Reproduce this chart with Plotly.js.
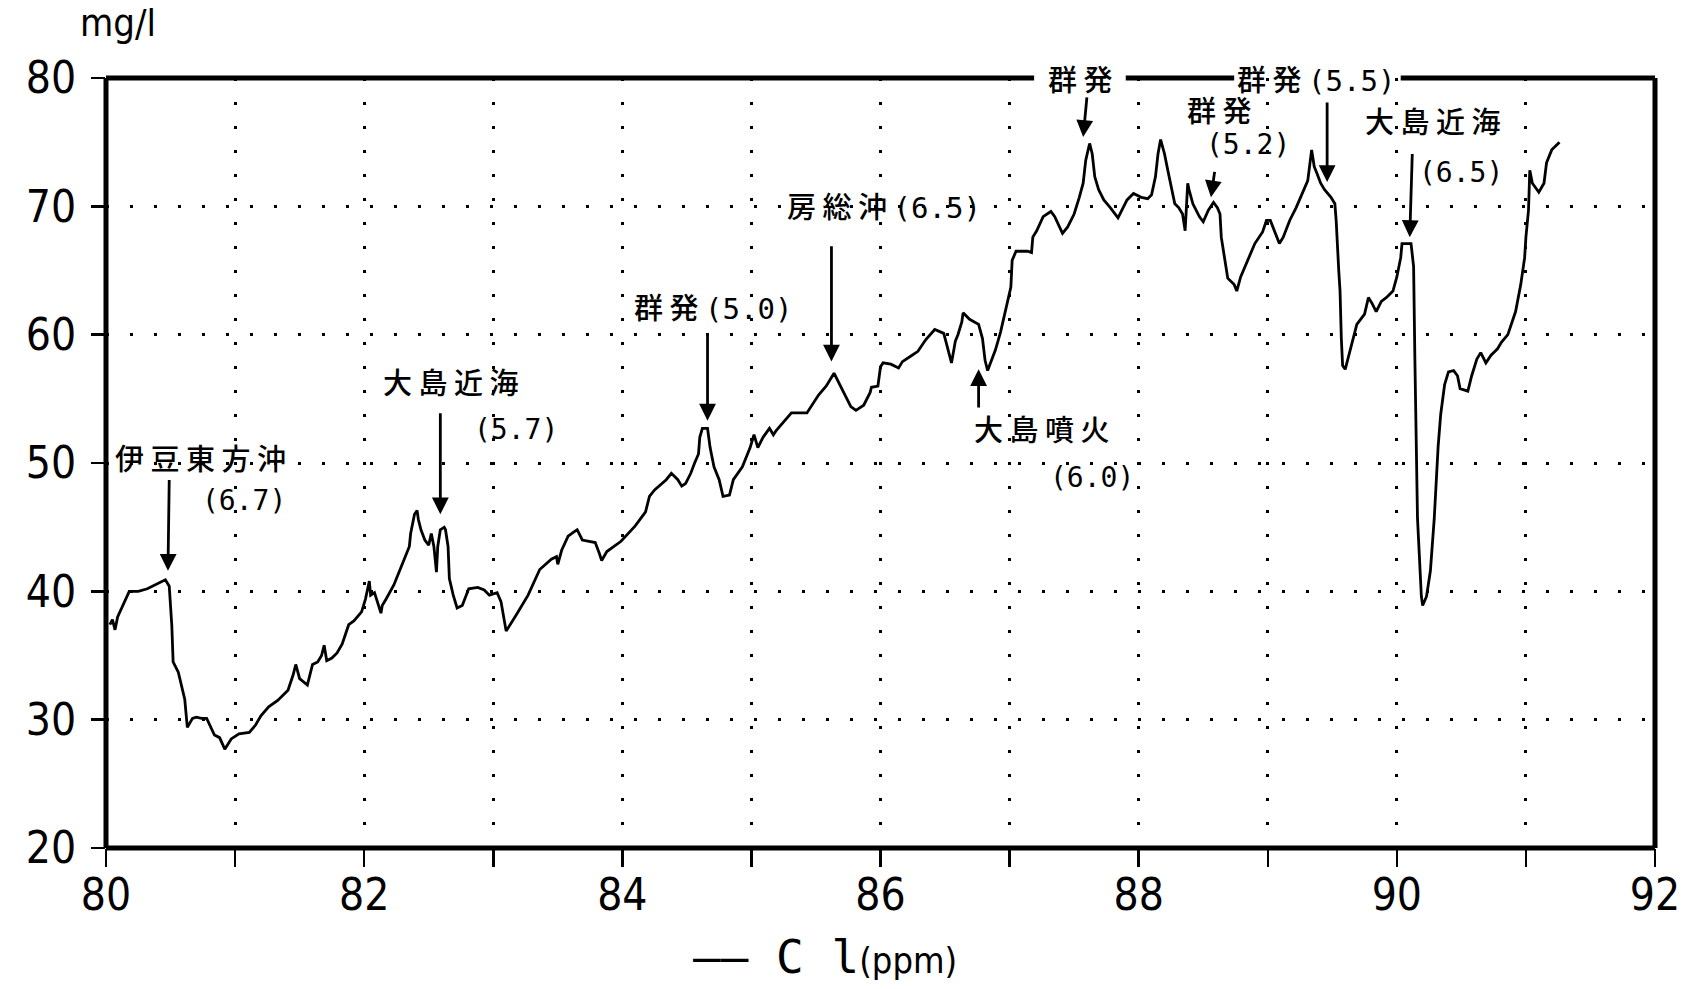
<!DOCTYPE html>
<html>
<head>
<meta charset="utf-8">
<script src="https://cdn.plot.ly/plotly-3.0.1.min.js"></script>
<style>
html,body{margin:0;padding:0;background:#fff;}
#chart{width:1693px;height:989px;}
</style>
</head>
<body>
<div id="chart"></div>
<script>
// Year (Showa/19xx short form) and chloride concentration (mg/l)
const years = [
80.03,80.05,80.07,80.09,80.18,80.25,80.32,80.40,80.46,80.49,80.51,80.52,80.56,80.61,80.63,80.67,80.70,80.74,80.78,80.84,
80.88,80.92,80.97,81.03,81.11,81.16,81.20,81.26,81.33,81.41,81.45,81.47,81.50,81.56,81.60,81.64,81.67,81.69,81.71,81.75,
81.79,81.83,81.88,81.92,81.98,82.01,82.04,82.05,82.08,82.13,82.14,82.17,82.23,82.29,82.35,82.36,82.39,82.41,82.42,82.44,
82.47,82.50,82.52,82.54,82.56,82.57,82.59,82.62,82.63,82.65,82.66,82.69,82.72,82.76,82.81,82.88,82.93,82.97,83.03,83.06,
83.10,83.18,83.27,83.36,83.45,83.49,83.50,83.53,83.58,83.62,83.65,83.69,83.79,83.82,83.84,83.88,83.99,84.10,84.18,84.21,
84.25,84.34,84.38,84.43,84.46,84.49,84.53,84.56,84.59,84.60,84.62,84.66,84.68,84.71,84.75,84.78,84.83,84.86,84.93,84.99,
85.02,85.05,85.09,85.14,85.17,85.19,85.25,85.31,85.43,85.52,85.58,85.64,85.70,85.77,85.81,85.87,85.92,85.93,85.98,86.00,
86.02,86.08,86.14,86.17,86.23,86.29,86.35,86.42,86.49,86.53,86.55,86.58,86.60,86.63,86.64,86.69,86.76,86.79,86.81,86.83,
86.86,86.89,86.93,86.98,87.01,87.02,87.05,87.14,87.17,87.18,87.21,87.26,87.32,87.35,87.41,87.45,87.50,87.54,87.57,87.59,
87.60,87.62,87.64,87.66,87.69,87.73,87.78,87.84,87.87,87.91,87.96,88.02,88.07,88.10,88.13,88.15,88.17,88.20,88.23,88.28,
88.31,88.34,88.36,88.38,88.39,88.42,88.47,88.50,88.54,88.58,88.61,88.63,88.64,88.67,88.69,88.74,88.76,88.79,88.85,88.90,
88.96,88.99,89.02,89.05,89.09,89.12,89.17,89.22,89.27,89.31,89.34,89.36,89.38,89.41,89.44,89.49,89.52,89.53,89.55,89.56,
89.57,89.58,89.60,89.62,89.65,89.69,89.75,89.78,89.81,89.84,89.88,89.92,89.97,90.00,90.03,90.04,90.11,90.13,90.14,90.16,
90.19,90.20,90.23,90.26,90.29,90.32,90.34,90.37,90.40,90.44,90.47,90.49,90.55,90.58,90.62,90.65,90.69,90.73,90.78,90.81,
90.86,90.92,90.96,90.99,91.00,91.02,91.03,91.05,91.10,91.14,91.16,91.20,91.23,91.26
];
const chloride = [
37.4,37.8,37.0,38.0,40.0,40.0,40.2,40.6,40.9,40.4,37.3,34.5,33.7,31.6,29.4,30.1,30.2,30.1,30.1,28.8,
28.6,27.7,28.5,28.9,29.0,29.6,30.3,31.0,31.5,32.3,33.5,34.3,33.2,32.7,34.3,34.5,35.0,35.8,34.6,34.8,
35.2,35.9,37.4,37.7,38.4,39.4,40.8,39.7,39.9,38.3,38.9,39.4,40.5,42.0,43.5,44.5,46.0,46.3,45.6,44.8,
44.0,43.6,44.5,43.5,41.5,43.5,44.8,45.0,44.8,43.5,41.0,39.7,38.7,38.9,40.2,40.3,40.1,39.7,39.9,39.2,
36.9,38.2,39.7,41.7,42.5,42.7,42.1,43.2,44.3,44.6,44.8,44.0,43.8,43.0,42.4,43.1,43.9,45.1,46.2,47.4,
47.9,48.7,49.2,48.7,48.2,48.4,49.2,50.0,50.7,52.0,52.7,52.7,51.2,49.7,48.7,47.4,47.5,48.7,49.7,51.2,
52.2,51.2,52.0,52.7,52.2,52.5,53.2,53.9,53.9,55.3,56.0,57.0,55.8,54.4,54.1,54.5,55.5,55.9,56.0,57.5,
57.8,57.7,57.4,57.9,58.3,58.7,59.6,60.4,60.1,58.5,57.8,59.5,60.0,61.0,61.7,61.2,60.8,59.7,58.0,57.2,
58.0,58.8,60.2,62.4,63.7,65.8,66.5,66.5,66.4,67.6,68.1,69.2,69.6,69.2,67.9,68.4,69.4,70.7,71.8,73.6,
74.1,74.9,74.1,72.3,71.3,70.5,69.9,69.1,69.7,70.5,71.0,70.7,70.6,70.9,72.3,74.1,75.2,74.1,72.6,70.2,
69.9,69.4,68.1,71.8,71.3,70.2,69.2,68.8,69.7,70.3,69.9,69.4,67.6,65.8,64.4,63.9,63.4,64.5,66.0,67.1,
68.0,68.9,68.9,68.1,67.1,67.6,68.9,69.9,71.0,72.0,74.4,73.1,72.6,71.8,71.3,70.7,70.2,68.9,65.0,63.4,
59.7,57.6,57.3,58.1,59.3,60.8,61.6,62.9,62.4,61.8,62.6,62.9,63.4,64.5,66.0,67.1,67.1,65.3,58.0,45.7,
39.6,38.9,39.6,41.6,45.7,51.3,53.8,56.1,57.1,57.2,56.8,55.8,55.6,56.8,58.1,58.6,57.8,58.4,58.9,59.4,
60.0,61.8,63.9,66.0,67.6,69.7,72.8,71.8,71.1,71.8,73.4,74.4,74.7,75.0
];

// Axis ticks
const xTickValues = [80,81,82,83,84,85,86,87,88,89,90,91,92];
const xTickLabels = ["80","","82","","84","","86","","88","","90","","92"];
const yTickValues = [20,30,40,50,60,70,80];
const yTickLabels = ["20","30","40","50","60","70","80"];

// Event notes (earthquake name and magnitude)
const eventNames = ["伊 豆 東 方 沖","大 島 近 海","群 発","房 総 沖","大 島 噴 火","群 発","群 発","群 発","大 島 近 海"];
const eventMagnitudes = ["(6.7)","(5.7)","(5.0)","(6.5)","(6.0)","","(5.5)","(5.2)","(6.5)"];

const MONO = "DejaVu Sans Mono";
const CJK = "Noto Sans CJK JP";

// Layout-only placement of notes: [nameX, nameY, magX, magY, inline, headX, headY, tailX, tailY]
const notePlacement = [
  [80.73, 50.5, 81.07, 47.1, false, 80.48, 41.6, 80.49, 48.8],
  [82.67, 56.4, 83.18, 52.6, false, 82.59, 46.0, 82.59, 54.0],
  [84.70, 62.2, null, null, true, 84.66, 53.3, 84.66, 60.1],
  [86.03, 70.1, null, null, true, 85.62, 57.9, 85.62, 67.0],
  [87.25, 52.7, 87.64, 48.9, false, 86.76, 57.3, 86.76, 54.2],
  [87.55, 80.0, null, null, true, 87.57, 75.4, 87.60, 78.6],
  [89.37, 80.0, null, null, true, 89.46, 71.9, 89.46, 78.2],
  [88.63, 77.6, 88.85, 74.8, false, 88.56, 70.7, 88.59, 72.8],
  [90.28, 76.7, 90.50, 72.6, false, 90.10, 67.6, 90.12, 74.2]
];

const annotations = [];
eventNames.forEach((name, i) => {
  const p = notePlacement[i];
  const mag = eventMagnitudes[i];
  let txt = name;
  if (p[4] && mag) txt = name + " <span style=\"font-family:" + MONO + "\">" + mag + "</span>";
  annotations.push({
    x: p[0], y: p[1], xref: "x", yref: "y", text: txt, showarrow: false,
    xanchor: "center", yanchor: "middle",
    font: {family: CJK, size: 29, color: "#000", weight: 500}
  });
  if (!p[4] && mag) {
    annotations.push({
      x: p[2], y: p[3], xref: "x", yref: "y", text: mag, showarrow: false,
      xanchor: "center", yanchor: "middle",
      font: {family: MONO, size: 28, color: "#000"}
    });
  }
  annotations.push({
    x: p[5], y: p[6], ax: p[7], ay: p[8], xref: "x", yref: "y", axref: "x", ayref: "y",
    text: "", showarrow: true, arrowhead: 2, arrowsize: 1.2, arrowwidth: 2.8,
    arrowcolor: "#000", standoff: 0, startstandoff: 0
  });
});

// Axis unit and title
annotations.push({
  xref: "paper", yref: "paper", x: 0.0075, y: 1.072, xanchor: "center", yanchor: "middle",
  text: "mg/l", showarrow: false, font: {family: "DejaVu Sans Condensed, DejaVu Sans", size: 38, color: "#000"}
});
annotations.push({
  xref: "paper", yref: "paper", x: 0.464, y: -0.142, xanchor: "center", yanchor: "middle",
  text: "—— C l<span style=\"font-size:36px;font-family:DejaVu Sans Condensed, DejaVu Sans\">(ppm)</span>",
  showarrow: false, font: {family: MONO, size: 46, color: "#000"}
});

// Frame (thick border, top border interrupted by labels)
const fx = v => (v - 80) / 12;
const frame = [
  [fx(80), 0, fx(80), 1],
  [fx(80), 0, fx(92), 0],
  [fx(92), 0, fx(92), 1],
  [fx(80), 1, fx(87.19), 1],
  [fx(87.90), 1, fx(88.74), 1],
  [fx(90.03), 1, fx(92), 1]
];
const shapes = frame.map(s => ({
  type: "line", xref: "paper", yref: "paper", x0: s[0], y0: s[1], x1: s[2], y1: s[3],
  line: {color: "#000", width: 5}, layer: "above"
}));

const trace = {
  x: years, y: chloride, type: "scatter", mode: "lines",
  line: {color: "#000", width: 2.8}, hoverinfo: "x+y", showlegend: false
};

const tickFont = {family: "DejaVu Sans Condensed, DejaVu Sans", size: 44, color: "#000"};

const layout = {
  width: 1693, height: 989,
  margin: {l: 106, r: 38, t: 78, b: 141},
  paper_bgcolor: "#fff", plot_bgcolor: "#fff",
  showlegend: false,
  xaxis: {
    range: [80, 92], tickmode: "array", tickvals: xTickValues, ticktext: xTickLabels,
    ticks: "outside", ticklen: 18, tickwidth: 2.5, tickcolor: "#000",
    showgrid: true, gridcolor: "#000", gridwidth: 3, griddash: "3px,21px",
    zeroline: false, showline: false, tickfont: tickFont, ticklabelstandoff: -10
  },
  yaxis: {
    range: [20, 80], tickmode: "array", tickvals: yTickValues, ticktext: yTickLabels,
    ticks: "outside", ticklen: 14, tickwidth: 2.5, tickcolor: "#000",
    showgrid: true, gridcolor: "#000", gridwidth: 3, griddash: "3px,21px",
    zeroline: false, showline: false, tickfont: tickFont, ticklabelstandoff: 6
  },
  shapes: shapes,
  annotations: annotations
};

Plotly.newPlot("chart", [trace], layout, {displayModeBar: false, staticPlot: true});
</script>
</body>
</html>
